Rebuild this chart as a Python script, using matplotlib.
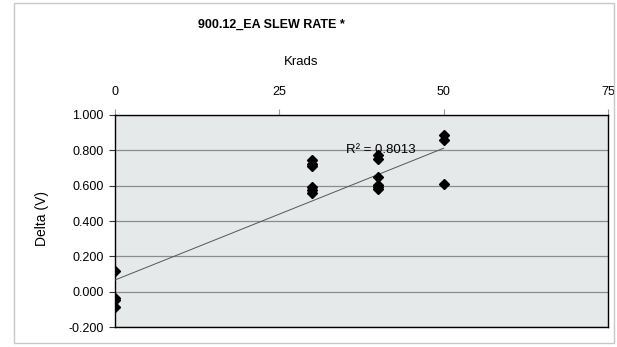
import numpy as np
import matplotlib.pyplot as plt
from matplotlib.patches import Rectangle

plt.rcParams['font.family'] = ['Liberation Sans', 'DejaVu Sans']

krads = [0, 0, 0, 0,
         30, 30, 30, 30, 30, 30,
         40, 40, 40, 40, 40, 40,
         50, 50, 50]
delta = [0.115, -0.037, -0.050, -0.088,
         0.745, 0.720, 0.710, 0.590, 0.575, 0.560,
         0.775, 0.750, 0.650, 0.605, 0.590, 0.580,
         0.885, 0.860, 0.610]
# linear trendline end points as drawn in the chart
trend_x = [0, 50]
trend_y = [0.066, 0.812]
x_ticks = [0, 25, 50, 75]
y_ticks = [-0.2, 0.0, 0.2, 0.4, 0.6, 0.8, 1.0]
r2_label = 'R² = 0.8013'

W, H = 617, 347
fig = plt.figure(figsize=(W / 100, H / 100), dpi=100)

# outer chart border
fig.patches.append(Rectangle((14 / W, 1 - 343 / H), (614 - 14) / W, (343 - 3) / H,
                             transform=fig.transFigure, fill=False,
                             edgecolor='#c8c8c8', linewidth=1.0))

ax = fig.add_axes([115 / W, 1 - 327 / H, (608 - 115) / W, (327 - 115) / H])
ax.set_facecolor('#e5e9e9')

ax.plot(trend_x, trend_y, color='#555555', linewidth=0.7, zorder=3)
ax.plot(krads, delta, linestyle='none', marker='D', markersize=5,
        color='black', zorder=4)

ax.set_xlim(0, 75)
ax.set_ylim(-0.2, 1.0)
ax.set_xticks(x_ticks)
ax.set_yticks(y_ticks)
ax.set_yticklabels([f'{v:.3f}' for v in y_ticks])
ax.xaxis.tick_top()
ax.tick_params(axis='x', direction='out', length=4, color='#999999',
               labelsize=9, pad=8)
ax.tick_params(axis='y', direction='out', length=4, color='#333333',
               labelsize=9, pad=4)
ax.grid(axis='y', color='#8c8c8c', linewidth=0.9)
ax.set_axisbelow(True)
for s in ax.spines.values():
    s.set_color('black')
    s.set_linewidth(1.0)

ax.text(35.1, 0.80, r2_label, fontsize=9.5, va='center', ha='left', zorder=5)

fig.text(271 / W, 1 - 25 / H, '900.12_EA SLEW RATE *', fontsize=9,
         fontweight='bold', ha='center', va='center')
fig.text(301 / W, 1 - 62 / H, 'Krads', fontsize=9.5, ha='center', va='center')
fig.text(42 / W, 1 - 218 / H, 'Delta (V)', fontsize=10, rotation=90,
         ha='center', va='center')

fig.savefig('out.png', dpi=100)
